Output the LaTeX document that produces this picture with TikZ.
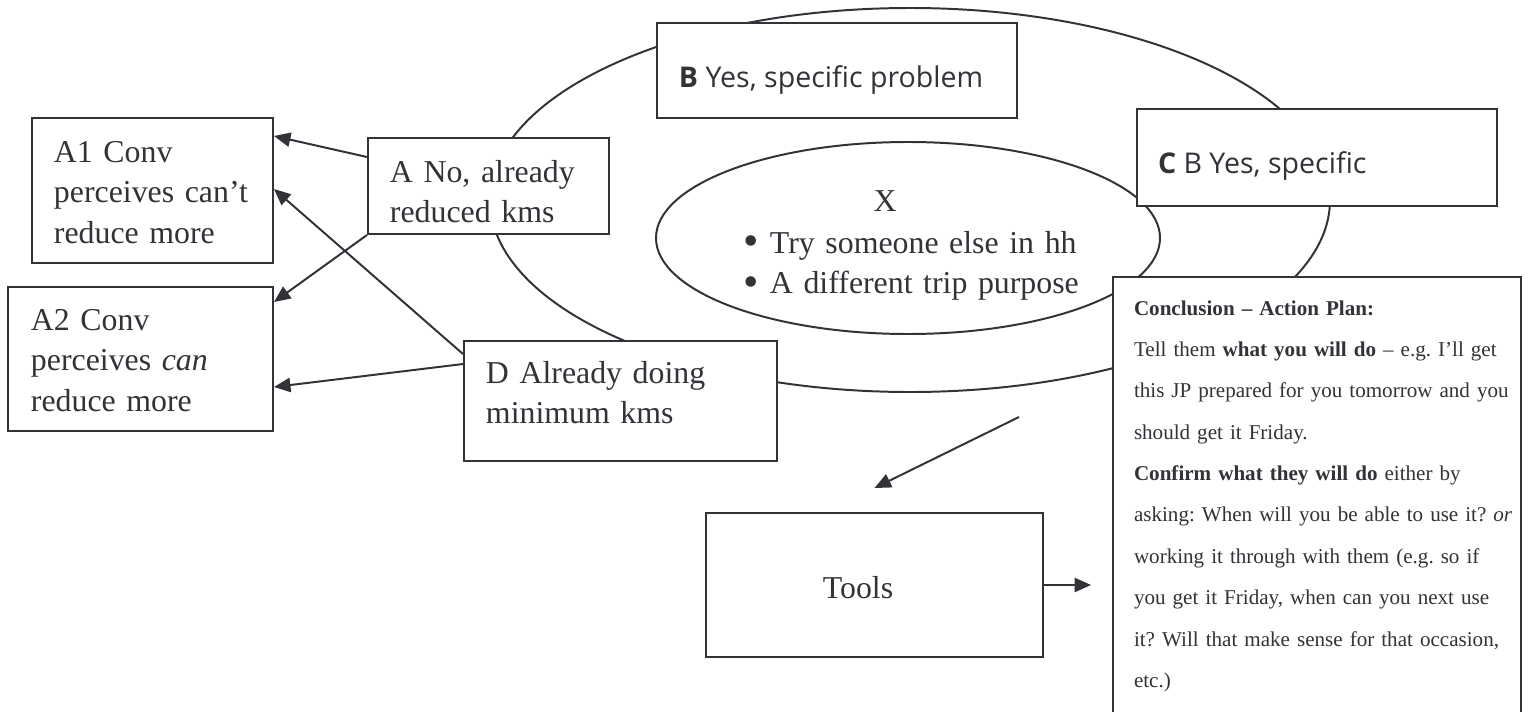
\documentclass[tikz,border=0pt]{standalone}
\usepackage{fontspec}
\setmainfont{Liberation Serif}
\newfontfamily\boxsans{Open Sans}
\usepackage{xcolor}
\usepackage{tikz}
\usetikzlibrary{arrows.meta, calc, fit}
\definecolor{inkgray}{RGB}{50,50,56}
\frenchspacing
\newcommand{\bigdot}{\raisebox{-1.2pt}{\fontsize{20}{18}\selectfont\textbullet}}

\begin{document}
\begin{tikzpicture}[x=0.016cm, y=-0.016cm, line width=0.9pt, color=inkgray,
    box/.style={draw, fill=white, inner sep=0pt},
    boxtext/.style={anchor=base west, inner sep=0pt, text width=9cm, align=left,
      font=\fontsize{14.5}{18.5}\selectfont},
    sanstext/.style={anchor=base west, inner sep=0pt, font=\boxsans\fontsize{13}{16}\selectfont},
    plantext/.style={anchor=base west, inner sep=0pt, text width=9cm, align=left,
      font=\fontsize{9.6}{18.85}\selectfont},
    >={Triangle[length=7.5pt, width=6.5pt]}]
  \clip (0,0) rectangle (1530,711);

  % the two ovals
  \draw (910,200) ellipse [x radius=420, y radius=192];
  \draw (908,238) ellipse [x radius=252, y radius=96];

  % boxes, filled so they sit over the ovals
  \node[box, fit={(368,138) (609,234)}] (nobox) {};
  \node[box, fit={(657,23) (1017,118)}] (yesbox) {};
  \node[box, fit={(1137,109) (1497,206)}] (specbox) {};
  \node[box, fit={(464,341) (777,461)}] (minbox) {};
  \node[box, fit={(706,513) (1043,657)}] (toolsbox) {};
  \node[box, fit={(1113,277) (1521,740)}] (planbox) {};
  \node[box, fit={(32,118) (273,263)}] (cantbox) {};
  \node[box, fit={(8,287) (273,431)}] (canbox) {};

  \node[boxtext] (canttext) at (53,162) {A1 Conv\\perceives can’t\\reduce more};
  \node[boxtext] (cantext) at (30,330) {A2 Conv\\perceives \textit{can}\\reduce more};
  \node[boxtext] (notext) at (389,182) {A No, already\\reduced kms};
  \node[boxtext] (mintext) at (485,383) {D Already doing\\minimum kms};
  \node[sanstext] (yestext) at (678,87) {\textbf{B} Yes, specific problem};
  \node[sanstext] (spectext) at (1157,173) {\textbf{C} B Yes, specific};
  \node[anchor=base, inner sep=0pt, font=\fontsize{14.5}{18.5}\selectfont] (xhead) at (885,211) {X};
  \node[boxtext] (xlist) at (743,253) {\bigdot\ Try someone else in hh\\\bigdot\ A different trip purpose};
  \node[anchor=base, inner sep=0pt, font=\fontsize{14.5}{18.5}\selectfont] (toolstext) at (858,598) {Tools};
  \node[plantext] (plantext) at (1133,315) {\textbf{Conclusion – Action Plan:}\\
    Tell them \textbf{what you will do} – e.g. I’ll get\\
    this JP prepared for you tomorrow and you\\
    should get it Friday.\\
    \textbf{Confirm what they will do} either by\\
    asking: When will you be able to use it? \textit{or}\\
    working it through with them (e.g. so if\\
    you get it Friday, when can you next use\\
    it? Will that make sense for that occasion,\\
    etc.)};

  \draw[->] ($(nobox.north west)+(0,20)$) -- ($(cantbox.north east)+(0,19)$);
  \draw[->] (nobox.south west) -- ($(canbox.north east)+(0,16)$);
  \draw[->] ($(minbox.north west)+(0,14)$) -- ($(cantbox.north east)+(0,72)$);
  \draw[->] ($(minbox.north west)+(0,24)$) -- ($(canbox.north east)+(0,101)$);
  \coordinate (toolsfeed) at (1019,417);
  \draw[->] (toolsfeed) -- ($(toolsbox.north)+(0,-24)$);
  \draw[->] (toolsbox.east) -- ++(47,0);
\end{tikzpicture}
\end{document}
